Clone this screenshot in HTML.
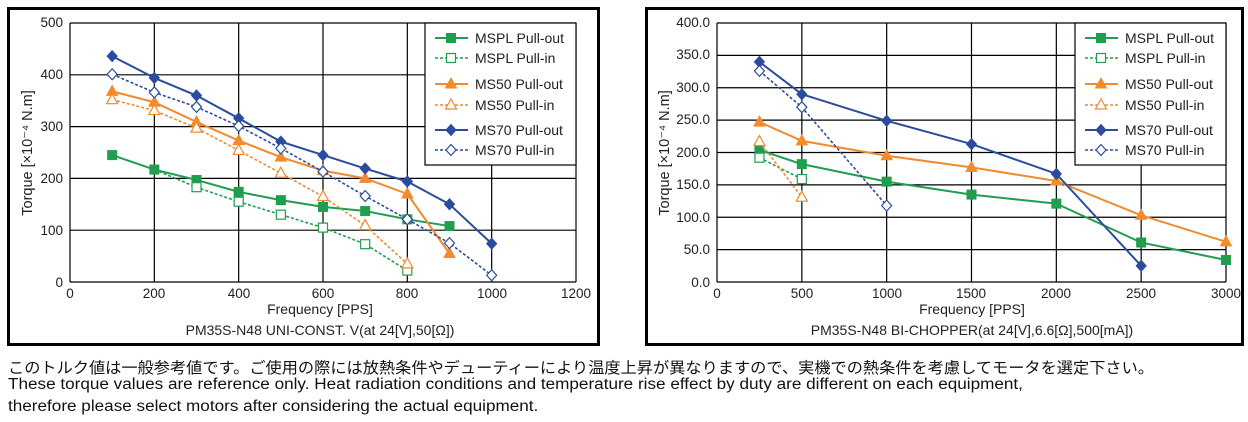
<!DOCTYPE html>
<html><head><meta charset="utf-8">
<style>
body{margin:0;background:#fff;width:1248px;height:422px;overflow:hidden;font-family:"Liberation Sans","Noto Sans CJK JP",sans-serif;}
svg{position:absolute;left:0;top:0}
.t{font-size:13.5px;fill:#222}
.lg{font-size:14px;fill:#222}
.note{position:absolute;left:8px;font-size:15.5px;color:#111;white-space:nowrap;transform-origin:0 0}
</style></head><body>
<svg id="s" width="1248" height="350" xmlns="http://www.w3.org/2000/svg">
<rect x="8.5" y="8.5" width="590" height="336" fill="#fff" stroke="#000" stroke-width="3"/>
<rect x="646.5" y="8.5" width="596" height="336" fill="#fff" stroke="#000" stroke-width="3"/>
<g id="grid" stroke="#000" stroke-width="1.2" fill="none"></g>
<g class="t" text-anchor="end">
<text x="63" y="27">500</text><text x="63" y="79">400</text><text x="63" y="131">300</text><text x="63" y="183">200</text><text x="63" y="235">100</text><text x="63" y="287">0</text>
</g>
<g class="t" text-anchor="middle">
<text x="70" y="298">0</text><text x="154" y="298">200</text><text x="239" y="298">400</text><text x="323" y="298">600</text><text x="407" y="298">800</text><text x="492" y="298">1000</text><text x="576" y="298">1200</text>
<text x="320" y="314" style="font-size:14px">Frequency [PPS]</text>
<text x="320" y="335" style="font-size:14px">PM35S-N48 UNI-CONST. V(at 24[V],50[Ω])</text>
<text transform="translate(32,153) rotate(-90)" style="font-size:14.5px">Torque [×10⁻⁴ N.m]</text>
</g>
<g class="t" text-anchor="end">
<text x="710" y="27">400.0</text><text x="710" y="59">350.0</text><text x="710" y="92">300.0</text><text x="710" y="124">250.0</text><text x="710" y="157">200.0</text><text x="710" y="189">150.0</text><text x="710" y="222">100.0</text><text x="710" y="254">50.0</text><text x="710" y="287">0.0</text>
</g>
<g class="t" text-anchor="middle">
<text x="717" y="298">0</text><text x="802" y="298">500</text><text x="887" y="298">1000</text><text x="971" y="298">1500</text><text x="1056" y="298">2000</text><text x="1141" y="298">2500</text><text x="1226" y="298">3000</text>
<text x="972" y="314" style="font-size:14px">Frequency [PPS]</text>
<text x="972" y="335" style="font-size:14px">PM35S-N48 BI-CHOPPER(at 24[V],6.6[Ω],500[mA])</text>
<text transform="translate(669,153) rotate(-90)" style="font-size:14.5px">Torque [×10⁻⁴ N.m]</text>
</g>
<g id="series"></g>
<g class="lg" id="leg">
<text x="475" y="43">MSPL Pull-out</text><text x="475" y="63">MSPL Pull-in</text>
<text x="475" y="89">MS50  Pull-out</text><text x="475" y="110">MS50  Pull-in</text>
<text x="475" y="135">MS70  Pull-out</text><text x="475" y="155">MS70  Pull-in</text>
<text x="1125" y="43">MSPL Pull-out</text><text x="1125" y="63">MSPL Pull-in</text>
<text x="1125" y="89">MS50  Pull-out</text><text x="1125" y="110">MS50  Pull-in</text>
<text x="1125" y="135">MS70  Pull-out</text><text x="1125" y="155">MS70  Pull-in</text>
</g>
</svg>
<div class="note" style="top:356px;transform:scaleX(1.045)">このトルク値は一般参考値です。ご使用の際には放熱条件やデューティーにより温度上昇が異なりますので、実機での熱条件を考慮してモータを選定下さい。</div>
<div class="note" style="top:376px;transform:scaleX(1.105)">These torque values are reference only. Heat radiation conditions and temperature rise effect by duty are different on each equipment,</div>
<div class="note" style="top:398px;transform:scaleX(1.105)">therefore please select motors after considering the actual equipment.</div>
<script>
var NS="http://www.w3.org/2000/svg";
function el(p,t,a){var e=document.createElementNS(NS,t);for(var k in a)e.setAttribute(k,a[k]);p.appendChild(e);return e;}
var g=document.getElementById('grid'),S=document.getElementById('series');
var G='#1f9e4f',O='#f28a2e',B='#2b4c9e';
var charts=[
{x0:70,x1:576,y0:282,y1:23,xm:1200,ym:500,xs:200,ys:100,leg:[425,23,576,165],lx:435,
 s:[
 [G,0,'s',[[100,245],[200,217],[300,197],[400,174],[500,158],[600,145],[700,137],[800,121],[900,108]]],
 [G,1,'s',[[200,217],[300,183],[400,155],[500,130],[600,105],[700,73],[800,22]],1],
 [O,0,'t',[[100,368],[200,347],[300,309],[400,273],[500,241],[600,215],[700,200],[800,170],[900,55]]],
 [O,1,'t',[[100,352],[200,331],[300,297],[400,254],[500,210],[600,165],[700,109],[800,35]]],
 [B,0,'d',[[100,436],[200,394],[300,360],[400,316],[500,271],[600,245],[700,219],[800,194],[900,150],[1000,74]]],
 [B,1,'d',[[100,401],[200,366],[300,338],[400,301],[500,258],[600,213],[700,166],[800,121],[900,75],[1000,13]]]]},
{x0:717,x1:1226,y0:282,y1:23,xm:3000,ym:400,xs:500,ys:50,leg:[1075,23,1226,165],lx:1085,
 s:[
 [G,0,'s',[[250,204],[500,182],[1000,155],[1500,135],[2000,121],[2500,61],[3000,34]]],
 [G,1,'s',[[250,192],[500,159]]],
 [O,0,'t',[[250,247],[500,218],[1000,195],[1500,177],[2000,156],[2500,103],[3000,62]]],
 [O,1,'t',[[250,217],[500,131]]],
 [B,0,'d',[[250,340],[500,290],[1000,249],[1500,213],[2000,167],[2500,25]]],
 [B,1,'d',[[250,326],[500,270],[1000,118]]]]}];
function marker(p,x,y,c,m,open){var f=open?'#fff':c,sw=open?1.2:1;
 if(m=='s')el(p,'rect',{x:x-4.5,y:y-4.5,width:9,height:9,fill:f,stroke:c,'stroke-width':sw});
 if(m=='t')el(p,'polygon',{points:(x)+','+(y-6)+' '+(x-5.5)+','+(y+4)+' '+(x+5.5)+','+(y+4),fill:f,stroke:c,'stroke-width':sw});
 if(m=='d')el(p,'polygon',{points:x+','+(y-5.5)+' '+(x+5)+','+y+' '+x+','+(y+5.5)+' '+(x-5)+','+y,fill:f,stroke:c,'stroke-width':sw});}
charts.forEach(function(c){
 for(var v=0;v<=c.xm;v+=c.xs){var x=c.x0+v*(c.x1-c.x0)/c.xm;el(g,'line',{x1:x,x2:x,y1:c.y1,y2:c.y0});}
 for(var v=0;v<=c.ym;v+=c.ys){var y=c.y0-v*(c.y0-c.y1)/c.ym;el(g,'line',{x1:c.x0,x2:c.x1,y1:y,y2:y});}
 var L=c.leg;el(g,'rect',{x:L[0],y:L[1],width:L[2]-L[0],height:L[3]-L[1],fill:'#fff'});
 var ly=[38,58,84,105,130,150];
 c.s.forEach(function(s,i){
  var pts=s[3].map(function(p){return [c.x0+p[0]*(c.x1-c.x0)/c.xm,c.y0-p[1]*(c.y0-c.y1)/c.ym];});
  el(S,'polyline',{points:pts.map(function(p){return p.join(',')}).join(' '),fill:'none',stroke:s[0],'stroke-width':s[1]?1.6:2,'stroke-dasharray':s[1]?'3,2':'none','stroke-linejoin':'round'});
  pts.forEach(function(p,j){ if(!(s[4]&&j==0)) marker(S,p[0],p[1],s[0],s[2],s[1]);});
  el(S,'line',{x1:c.lx,x2:c.lx+33,y1:ly[i],y2:ly[i],stroke:s[0],'stroke-width':s[1]?1.6:2,'stroke-dasharray':s[1]?'3,2':'none'});
  marker(S,c.lx+16,ly[i],s[0],s[2],s[1]);
 });
});
</script>
</body></html>
